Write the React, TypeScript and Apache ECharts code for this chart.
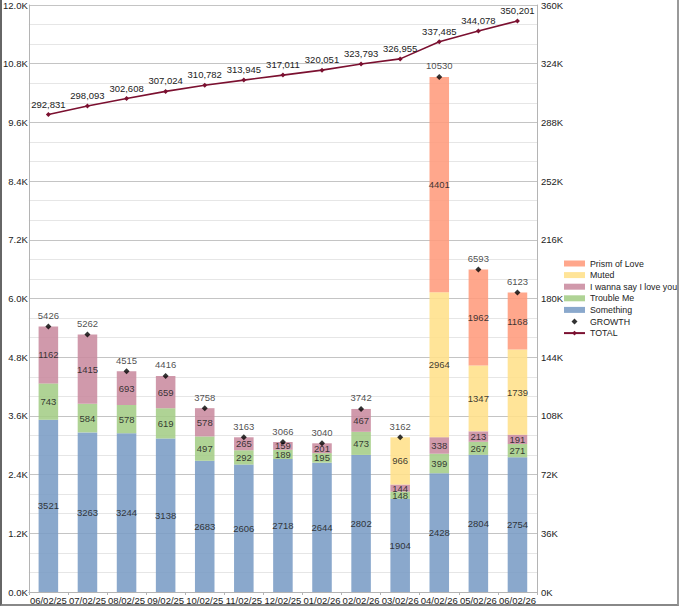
import React, { useEffect, useRef } from "react";
import * as echarts from "echarts";

const categories = ["06/02/25","07/02/25","08/02/25","09/02/25","10/02/25","11/02/25","12/02/25","01/02/26","02/02/26","03/02/26","04/02/26","05/02/26","06/02/26"];
const something = [3521,3263,3244,3138,2683,2606,2718,2644,2802,1904,2428,2804,2754];
const troubleMe = [743,584,578,619,497,292,189,195,473,148,399,267,271];
const iWanna = [1162,1415,693,659,578,265,159,201,467,144,338,213,191];
const muted = [0,0,0,0,0,0,0,0,0,966,2964,1347,1739];
const prism = [0,0,0,0,0,0,0,0,0,0,4401,1962,1168];
const growth = [5426,5262,4515,4416,3758,3163,3066,3040,3742,3162,10530,6593,6123];
const total = [292831,298093,302608,307024,310782,313945,317011,320051,323793,326955,337485,344078,350201];

const FONT = "'Liberation Sans', Arial, sans-serif";
const FS = 9.5;
const TXT = "#222";

const DIAMOND_ICON = "path://M0,0L0.01,0M21,6L20.99,6M7.5,3L10.5,0L13.5,3L10.5,6Z";

function barSeries(name: string, data: number[], color: string) {
  return {
    name,
    type: "bar",
    stack: "s",
    barWidth: "50%",
    data,
    itemStyle: { color, opacity: 0.88 },
    label: {
      show: true,
      position: "inside",
      color: TXT,
      fontSize: FS,
      fontFamily: FONT,
      formatter: (p: any) => (p.value ? String(p.value) : ""),
    },
  };
}

export default function App() {
  const ref = useRef<HTMLDivElement>(null);
  useEffect(() => {
    document.body.style.margin = "0";
    const chart = echarts.init(ref.current!, undefined, { renderer: "svg" });
    chart.setOption({
      animation: false,
      backgroundColor: "#fff",
      textStyle: { fontFamily: FONT, fontSize: FS, color: TXT },
      grid: { left: 26, right: 143, top: 5, bottom: 14, containLabel: false },
      legend: {
        orient: "vertical",
        left: 558,
        top: 254,
        itemWidth: 21,
        itemHeight: 6,
        itemGap: 2.6,
        textStyle: { fontFamily: FONT, fontSize: 8.8, color: TXT },
        data: [
          { name: "Prism of Love", icon: "rect" },
          { name: "Muted", icon: "rect" },
          { name: "I wanna say I love you", icon: "rect" },
          { name: "Trouble Me", icon: "rect" },
          { name: "Something", icon: "rect" },
          { name: "GROWTH", icon: DIAMOND_ICON },
          { name: "TOTAL" },
        ],
      },
      xAxis: {
        type: "category",
        data: categories,
        axisLine: { show: true, lineStyle: { color: "#b4b4b4" } },
        axisTick: { show: true, length: 3, lineStyle: { color: "#b4b4b4" } },
        axisLabel: { interval: 0, color: TXT, fontSize: FS, fontFamily: FONT, margin: 3 },
      },
      yAxis: [
        {
          type: "value",
          min: 0,
          max: 12000,
          interval: 1200,
          axisLine: { show: true, lineStyle: { color: "#b4b4b4" } },
          axisTick: { show: false },
          axisLabel: {
            color: TXT,
            fontSize: FS,
            fontFamily: FONT,
            margin: 1,
            formatter: (v: number) => (v / 1000).toFixed(1) + "K",
          },
          splitLine: { show: true, lineStyle: { color: "#c4c4c4" } },
          minorTick: { show: false, splitNumber: 3 },
          minorSplitLine: { show: true, lineStyle: { color: "#e6e6e6" } },
        },
        {
          type: "value",
          min: 0,
          max: 360000,
          interval: 36000,
          position: "right",
          axisLine: { show: true, lineStyle: { color: "#b4b4b4" } },
          axisTick: { show: false },
          axisLabel: {
            color: TXT,
            fontSize: FS,
            fontFamily: FONT,
            margin: 4,
            formatter: (v: number) => v / 1000 + "K",
          },
          splitLine: { show: false },
        },
      ],
      series: [
        barSeries("Something", something, "#7a9cc5"),
        barSeries("Trouble Me", troubleMe, "#a4cd86"),
        barSeries("I wanna say I love you", iWanna, "#c98b9f"),
        barSeries("Muted", muted, "#ffe08a"),
        barSeries("Prism of Love", prism, "#ff9b7c"),
        {
          name: "GROWTH",
          type: "scatter",
          data: growth,
          symbol: "diamond",
          symbolSize: 6,
          itemStyle: { color: "#000" },
          z: 5,
          label: {
            show: true,
            position: "top",
            distance: 3,
            color: TXT,
            fontSize: FS,
            fontFamily: FONT,
          },
        },
        {
          name: "TOTAL",
          type: "line",
          yAxisIndex: 1,
          data: total,
          symbol: "diamond",
          symbolSize: 5,
          lineStyle: { color: "#7b1030", width: 1.6 },
          itemStyle: { color: "#7b1030" },
          z: 6,
          label: {
            show: true,
            position: "top",
            distance: 3,
            color: TXT,
            fontSize: FS,
            fontFamily: FONT,
            formatter: (p: any) => Number(p.value).toLocaleString("en-US"),
          },
        },
      ],
    });
    return () => chart.dispose();
  }, []);
  return (
    <div style={{ position: "relative", width: 680, height: 606 }}>
      <div ref={ref} style={{ width: 680, height: 606 }} />
      <div
        style={{
          position: "absolute",
          left: 0,
          top: 0,
          width: 679,
          height: 606,
          boxSizing: "border-box",
          borderLeft: "2px solid #666",
          borderRight: "2px solid #999",
          borderBottom: "2px solid #888",
          pointerEvents: "none",
        }}
      />
    </div>
  );
}
